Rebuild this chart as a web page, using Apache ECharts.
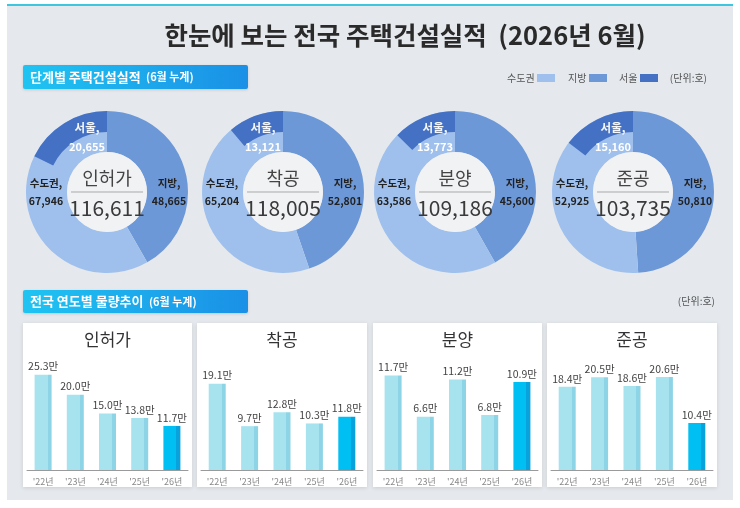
<!DOCTYPE html>
<html><head><meta charset="utf-8">
<script src="https://cdn.jsdelivr.net/npm/echarts@6/dist/echarts.min.js"></script>
<style>html,body{margin:0;padding:0;background:#fff;}#c{width:740px;height:508px;}</style>
</head><body><div id="c"></div>
<script>
// ---- data ----
var stages = ['인허가', '착공', '분양', '준공'];
var metroArea = [67946, 65204, 63586, 52925];   // 수도권
var localArea = [48665, 52801, 45600, 50810];   // 지방
var seoulArea = [20655, 13121, 13773, 15160];   // 서울 (part of 수도권)
var years = ["'22년", "'23년", "'24년", "'25년", "'26년"];
var permitVals = [25.3, 20.0, 15.0, 13.8, 11.7];
var startVals = [19.1, 9.7, 12.8, 10.3, 11.8];
var saleVals = [11.7, 6.6, 11.2, 6.8, 10.9];
var completeVals = [18.4, 20.5, 18.6, 20.6, 10.4];
var barAxisMax = [30, 25, 14, 25];

var FONT = '"Noto Sans CJK KR", "Noto Sans", sans-serif';
var C_METRO = '#9fc0ec', C_LOCAL = '#6d98d8', C_SEOUL = '#4471c4';
var fmt = function (n) { return n.toLocaleString('en-US'); };

var chart = echarts.init(document.getElementById('c'), null, { renderer: 'canvas' });

var graphic = [];
function txt(x, y, text, size, color, weight, align, z) {
  graphic.push({ type: 'text', x: x, y: y, z: z || 20, silent: true,
    style: { text: text, fontSize: size, fill: color, fontWeight: weight || 'normal',
      fontFamily: FONT, align: align || 'center', verticalAlign: 'middle' } });
}
// panel
graphic.push({ type: 'rect', z: -10, silent: true, shape: { x: 7, y: 5, width: 726, height: 495 }, style: { fill: '#e5e9ed' } });
graphic.push({ type: 'rect', z: -9, silent: true, shape: { x: 7, y: 4, width: 726, height: 2 }, style: { fill: '#3ec6df' } });
txt(405, 35, '한눈에 보는 전국 주택건설실적  (2026년 6월)', 25.5, '#2a2a2a', 'bold');

function header(y, h, title, sub) {
  graphic.push({ type: 'rect', z: 1, silent: true, shape: { x: 23, y: y, width: 225, height: h, r: 2 },
    style: { fill: new echarts.graphic.LinearGradient(0, 0, 1, 0, [{ offset: 0, color: '#1fc4f2' }, { offset: 1, color: '#1a90e6' }]),
      shadowBlur: 3, shadowColor: 'rgba(0,0,0,0.15)', shadowOffsetY: 1 } });
  graphic.push({ type: 'text', x: 30, y: y + h / 2, z: 20, silent: true,
    style: { text: '{a|' + title + '}  {b|' + sub + '}', fill: '#fff', align: 'left', verticalAlign: 'middle', fontFamily: FONT,
      rich: { a: { fontSize: 13, fontWeight: 'bold', fill: '#fff', fontFamily: FONT }, b: { fontSize: 11, fontWeight: 'bold', fill: '#fff', fontFamily: FONT } } } });
}
header(65, 24, '단계별 주택건설실적', '(6월 누계)');
header(290, 23, '전국 연도별 물량추이', '(6월 누계)');

// legend
var lg = [['수도권', C_METRO, 507], ['지방', C_LOCAL, 568], ['서울', C_SEOUL, 619]];
lg.forEach(function (l) {
  txt(l[2], 78, l[0], 10, '#555', 'normal', 'left');
  var w = l[0].length === 3 ? 30 : 21;
  graphic.push({ type: 'rect', z: 5, silent: true, shape: { x: l[2] + w, y: 74, width: 18, height: 8 }, style: { fill: l[1] } });
});
txt(707, 78, '(단위:호)', 10, '#555', 'normal', 'right');
txt(715, 301, '(단위:호)', 10, '#555', 'normal', 'right');

// donuts
var centersX = [107, 283, 455, 633], CY = 192;
var series = [];
stages.forEach(function (name, i) {
  var cx = centersX[i];
  var total = metroArea[i] + localArea[i];
  series.push({ type: 'pie', center: [cx, CY], radius: [40, 81], startAngle: 90, clockwise: true,
    silent: true, animation: false, label: { show: false }, labelLine: { show: false },
    data: [{ name: '지방', value: localArea[i], itemStyle: { color: C_LOCAL } },
           { name: '수도권', value: metroArea[i], itemStyle: { color: C_METRO } }] });
  series.push({ type: 'pie', center: [cx, CY], radius: [60, 81], startAngle: 90, clockwise: false,
    silent: true, animation: false, label: { show: false }, labelLine: { show: false }, z: 3,
    data: [{ name: '서울', value: seoulArea[i], itemStyle: { color: C_SEOUL } },
           { name: '', value: total - seoulArea[i], itemStyle: { color: 'rgba(0,0,0,0)' } }] });
  graphic.push({ type: 'circle', z: 5, silent: true, shape: { cx: cx, cy: CY, r: 40 }, style: { fill: '#f1f2f4' } });
  graphic.push({ type: 'line', z: 6, silent: true, shape: { x1: cx - 36, y1: CY, x2: cx + 36, y2: CY }, style: { stroke: '#a9a9a9', lineWidth: 1 } });
  txt(cx, CY - 14, name, 18, '#444', 'normal');
  txt(cx, CY + 16, fmt(total), 21, '#3a3a3a', 'normal');
  txt(cx - 20, CY - 64, '서울,', 11.5, '#f4f7fc', 'bold');
  txt(cx - 20, CY - 45, fmt(seoulArea[i]), 11, '#ffffff', 'bold');
  txt(cx - 61, CY - 9, '수도권,', 10.5, '#222', 'bold');
  txt(cx - 61, CY + 9, fmt(metroArea[i]), 10.5, '#222', 'bold');
  txt(cx + 62, CY - 9, '지방,', 10.5, '#222', 'bold');
  txt(cx + 62, CY + 9, fmt(localArea[i]), 10.5, '#222', 'bold');
});

// bar cards
var cards = [[23, 169], [197, 170], [373, 169], [547, 170]];
var barSets = [permitVals, startVals, saleVals, completeVals];
var grids = [], xAxes = [], yAxes = [];
function barColor(hi) {
  var a = hi ? '#00bff3' : '#a6e3ef', b = hi ? '#0aa2dc' : '#8dd4e6';
  return new echarts.graphic.LinearGradient(0, 0, 1, 0, [
    { offset: 0, color: a }, { offset: 0.76, color: a }, { offset: 0.76, color: b }, { offset: 1, color: b }]);
}
cards.forEach(function (cd, i) {
  graphic.push({ type: 'rect', z: 0, silent: true, shape: { x: cd[0], y: 323, width: cd[1], height: 164 },
    style: { fill: '#fff', shadowBlur: 4, shadowColor: 'rgba(0,0,0,0.12)', shadowOffsetY: 1 } });
  txt(cd[0] + cd[1] / 2, 340, stages[i], 17, '#333', 'normal');
  grids.push({ left: cd[0] + 4, width: cd[1] - 8, top: 357, height: 113 });
  xAxes.push({ type: 'category', gridIndex: i, data: years,
    axisLine: { lineStyle: { color: '#9a9a9a', width: 1 } }, axisTick: { show: false },
    axisLabel: { fontSize: 9, color: '#888', margin: 7, fontFamily: FONT } });
  yAxes.push({ type: 'value', gridIndex: i, min: 0, max: barAxisMax[i], show: false, splitLine: { show: false } });
  var vals = barSets[i];
  series.push({ type: 'bar', xAxisIndex: i, yAxisIndex: i, barWidth: 17, animation: false, silent: true,
    label: { show: true, position: 'top', distance: 3, fontSize: 10.5, color: '#444', fontFamily: FONT,
      formatter: function (p) { return p.value.toFixed(1) + '만'; } },
    data: vals.map(function (v, k) { return { value: v, itemStyle: { color: barColor(k === vals.length - 1) } }; }) });
});

chart.setOption({
  animation: false,
  textStyle: { fontFamily: FONT },
  grid: grids, xAxis: xAxes, yAxis: yAxes,
  series: series,
  graphic: graphic
});
</script></body></html>
